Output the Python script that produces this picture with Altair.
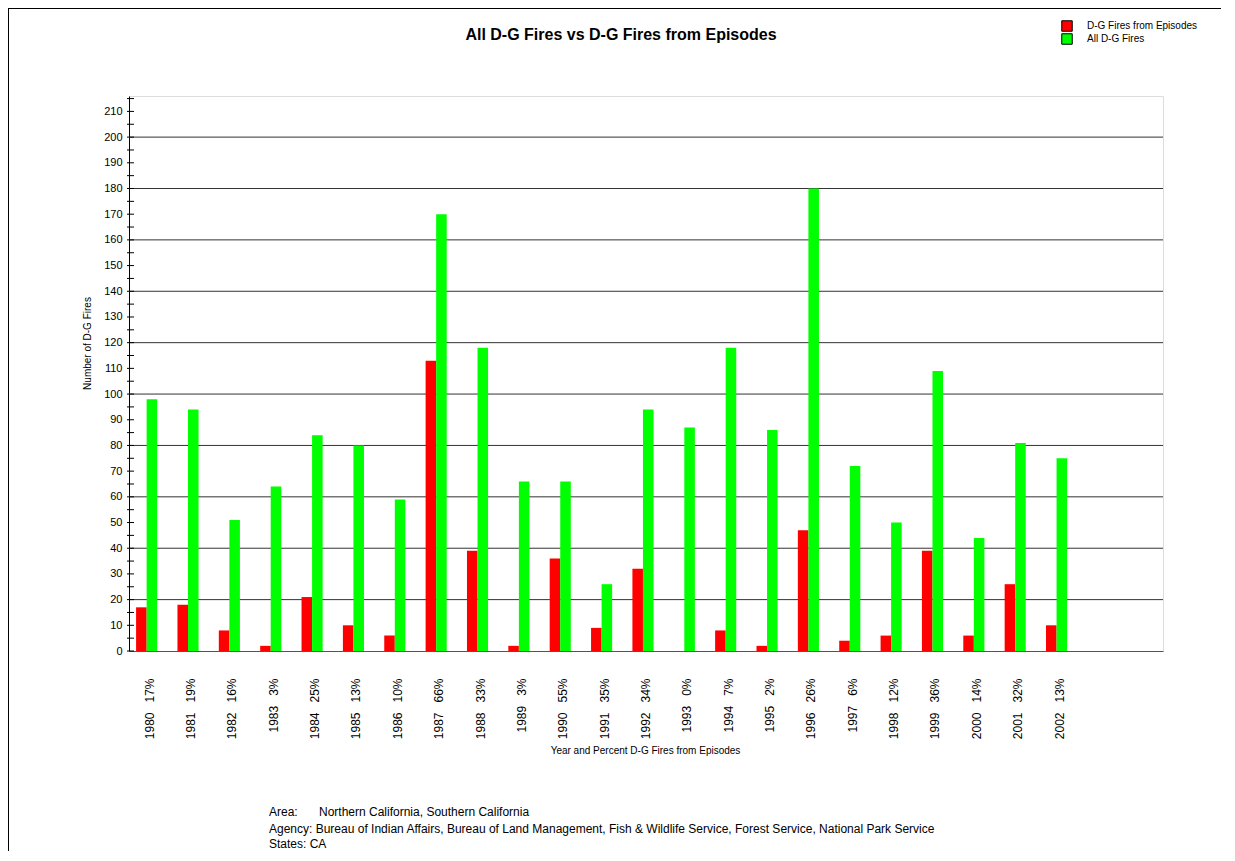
import altair as alt
import pandas as pd

# ---- data ----
YEARS = [1980, 1981, 1982, 1983, 1984, 1985, 1986, 1987, 1988, 1989, 1990, 1991,
         1992, 1993, 1994, 1995, 1996, 1997, 1998, 1999, 2000, 2001, 2002]
PCT = [17, 19, 16, 3, 25, 13, 10, 66, 33, 3, 55, 35, 34, 0, 7, 2, 26, 6, 12, 36, 14, 32, 13]
EPISODE_FIRES = [17, 18, 8, 2, 21, 10, 6, 113, 39, 2, 36, 9, 32, 0, 8, 2, 47, 4, 6, 39, 6, 26, 10]
ALL_FIRES = [98, 94, 51, 64, 84, 80, 59, 170, 118, 66, 66, 26, 94, 87, 118, 86, 180, 72, 50, 109, 44, 81, 75]

SERIES = ["D-G Fires from Episodes", "All D-G Fires"]
COLORS = ["#FF0000", "#00FF00"]

TITLE = "All D-G Fires vs D-G Fires from Episodes"
X_TITLE = "Year and Percent D-G Fires from Episodes"
Y_TITLE = "Number of D-G Fires"
Y_LABELS = list(range(0, 211, 10))
Y_TICKS = list(range(0, 216, 5))
GRID = list(range(20, 201, 20))
EMPTY_SLOTS = ["_1", "_2"]

FOOT_AREA_KEY = "Area:"
FOOT_AREA_VAL = "Northern California, Southern California"
FOOT_AGENCY = ("Agency: Bureau of Indian Affairs, Bureau of Land Management, "
               "Fish & Wildlife Service, Forest Service, National Park Service")
FOOT_STATES = "States: CA"

FONT = "Liberation Sans"
NB = "\u00a0"

labels = [f"{y}{NB*3}{p}%" for y, p in zip(YEARS, PCT)]

rows = []
for lab, e, a in zip(labels, EPISODE_FIRES, ALL_FIRES):
    rows.append({"label": lab, "series": SERIES[0], "value": e})
    rows.append({"label": lab, "series": SERIES[1], "value": a})
df = pd.DataFrame(rows)

W, H = 1034, 555
ymax = 216

yscale = alt.Scale(domain=[0, ymax], nice=False, zero=True)
y_axis = alt.Axis(
    title=Y_TITLE,
    titleFont=FONT, titleFontSize=10, titleFontWeight="normal", titleColor="#000000",
    titleX=-42, titleY=247, titleAngle=270, titleAlign="center", titleBaseline="middle",
    values=Y_LABELS, labelFont=FONT, labelFontSize=11, labelColor="#000000",
    labelPadding=7, ticks=False, tickSize=0, grid=False,
    domainColor="#000000", domainWidth=1,
)

grid = alt.Chart(pd.DataFrame({"value": GRID})).mark_rule(color="#333333", strokeWidth=1).encode(
    y=alt.Y("value:Q", scale=yscale, axis=y_axis)
)

ticks = alt.Chart(pd.DataFrame({"value": Y_TICKS})).mark_rule(color="#000000", strokeWidth=1).encode(
    y=alt.Y("value:Q", scale=yscale, axis=y_axis),
    x=alt.value(-2),
    x2=alt.value(5),
)

bars = alt.Chart(df).mark_bar(stroke=None).encode(
    x=alt.X(
        "label:N",
        sort=labels + EMPTY_SLOTS,
        scale=alt.Scale(domain=labels + EMPTY_SLOTS, paddingInner=0.49,
                        paddingOuter=0.245, align=0.35),
        axis=alt.Axis(
            title=X_TITLE,
            titleFont=FONT, titleFontSize=10, titleFontWeight="normal", titleColor="#000000",
            titleX=516, titleY=99, titleAlign="center", titleBaseline="middle",
            labelAngle=270, labelAlign="right", labelBaseline="middle",
            labelFont=FONT, labelFontSize=12, labelColor="#000000",
            labelPadding=27, labelOffset=3,
            labelExpr="indexof(datum.value, '_') == 0 ? '' : datum.value",
            ticks=False, tickSize=0, grid=False,
            domainColor="#555555", domainWidth=1, labelOverlap=False,
        ),
    ),
    xOffset=alt.XOffset("series:N", sort=SERIES,
                        scale=alt.Scale(domain=SERIES, paddingInner=0, paddingOuter=0)),
    y=alt.Y("value:Q", scale=yscale, axis=y_axis),
    color=alt.Color(
        "series:N",
        sort=SERIES,
        scale=alt.Scale(domain=SERIES, range=COLORS),
        legend=alt.Legend(
            title=None, orient="none", legendX=932, legendY=-76,
            symbolType="square", symbolSize=110, symbolStrokeColor="#000000",
            symbolStrokeWidth=1, symbolOpacity=1,
            labelFont=FONT, labelFontSize=10, labelColor="#000000",
            labelOffset=14, rowPadding=1, padding=0, clipHeight=12,
        ),
    ),
)


def note(text, x, y, size=12, weight="normal", align="left"):
    return alt.Chart(pd.DataFrame({"t": [text]})).mark_text(
        align=align, baseline="middle", font=FONT, fontSize=size, fontWeight=weight,
        color="#000000"
    ).encode(text="t:N", x=alt.value(x), y=alt.value(y))


title = note(TITLE, 492, -61, size=16, weight="bold", align="center")

foot = (note(FOOT_AREA_KEY, 140, 716) + note(FOOT_AREA_VAL, 190, 716)
        + note(FOOT_AGENCY, 140, 733) + note(FOOT_STATES, 140, 748))

border_left = alt.Chart(pd.DataFrame({"a": [0]})).mark_rule(color="#000000", strokeWidth=1).encode(
    x=alt.value(-120.5), y=alt.value(-87.5), y2=alt.value(900)
)
border_top = alt.Chart(pd.DataFrame({"a": [0]})).mark_rule(color="#000000", strokeWidth=1).encode(
    x=alt.value(-121), x2=alt.value(1200), y=alt.value(-87.5)
)

chart = alt.layer(grid, bars, ticks, title, foot, border_left, border_top).properties(
    width=W,
    height=H,
    autosize=alt.AutoSizeParams(type="none"),
    padding={"left": 121, "top": 88, "right": 58, "bottom": 200},
).configure_view(stroke="#555555", strokeWidth=1.2).configure(background="#ffffff")

chart.save("out.html", embed_options={"renderer": "svg", "actions": False})
